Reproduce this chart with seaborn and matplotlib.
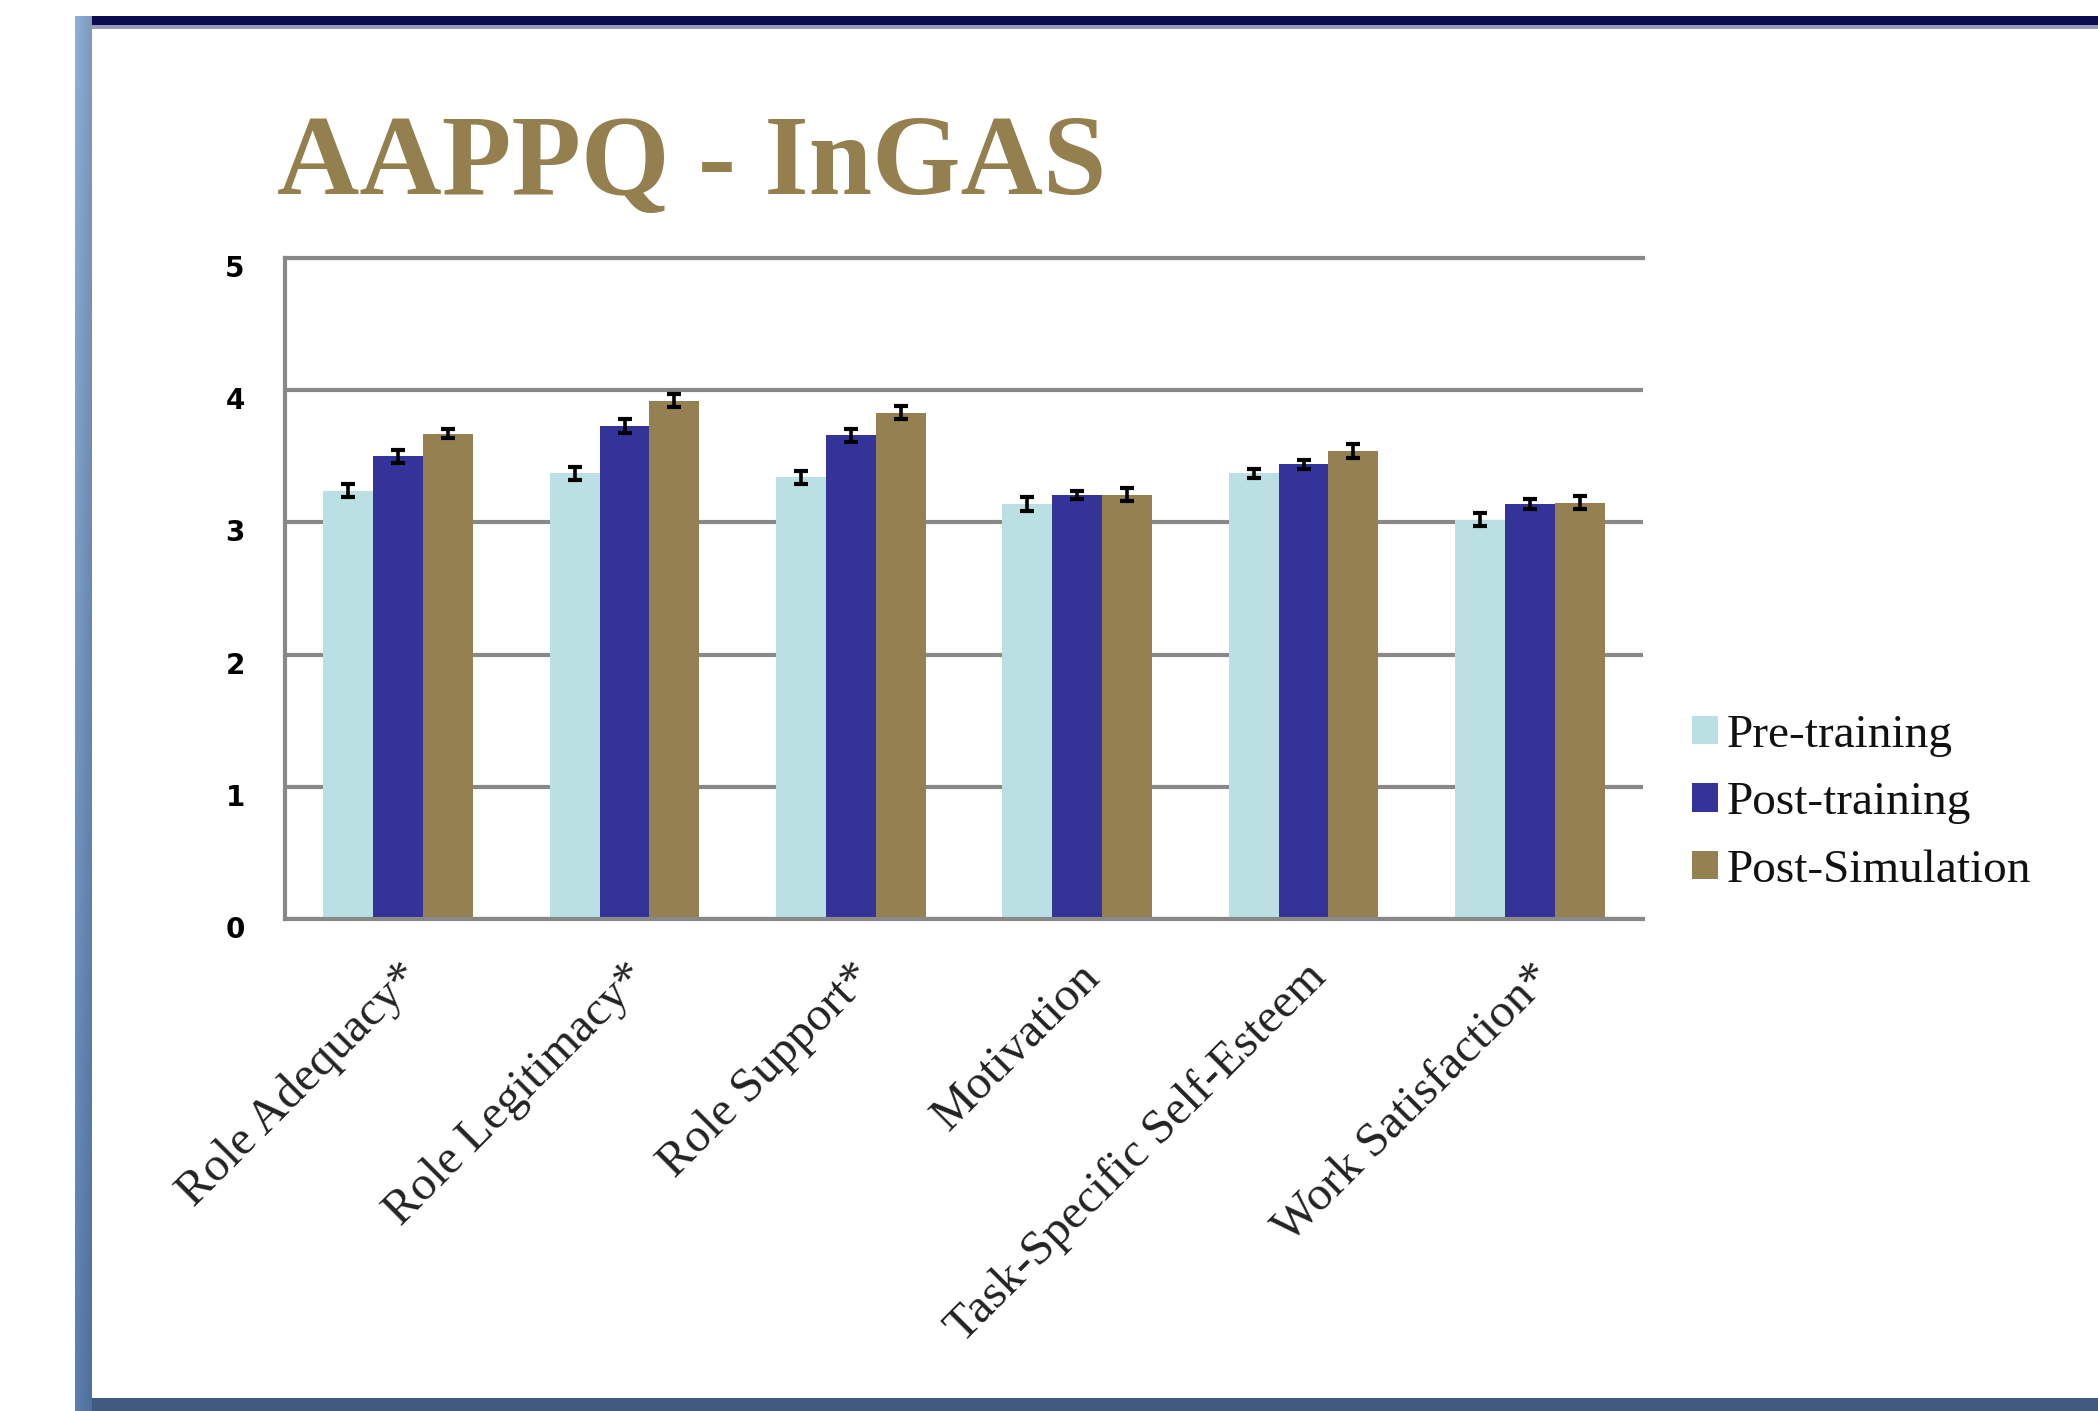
import numpy as np
import pandas as pd
import matplotlib
matplotlib.use("Agg")
import matplotlib.pyplot as plt
import matplotlib.transforms as mtransforms
import seaborn as sns
from matplotlib.patches import Rectangle

# ---- data ----
categories = ["Role Adequacy*", "Role Legitimacy*", "Role Support*",
              "Motivation", "Task-Specific Self-Esteem", "Work Satisfaction*"]
series = ["Pre-training", "Post-training", "Post-Simulation"]
pre_training = [3.24, 3.37, 3.34, 3.14, 3.37, 3.02]
post_training = [3.50, 3.73, 3.66, 3.21, 3.44, 3.14]
post_simulation = [3.67, 3.92, 3.83, 3.21, 3.54, 3.15]
pre_err = [0.05, 0.05, 0.05, 0.05, 0.035, 0.05]
post_err = [0.05, 0.05, 0.05, 0.03, 0.035, 0.035]
postsim_err = [0.035, 0.05, 0.05, 0.05, 0.05, 0.05]
yticks = [0, 1, 2, 3, 4, 5]
colors = ["#BBE0E3", "#333399", "#948051"]
title = "AAPPQ - InGAS"

sns.set_theme(style="white")
plt.rcParams["font.family"] = ["Liberation Serif", "DejaVu Sans"]

W, H = 2098, 1411
fig = plt.figure(figsize=(W / 100, H / 100), dpi=100, facecolor="white")

# ---- slide frame decorations ----
gax = fig.add_axes([75 / W, 0, 17 / W, (H - 16) / H])
grad = np.zeros((100, 10, 3))
top_c = np.array([0x8F, 0xAF, 0xD6]) / 255
bot_c = np.array([0x5A, 0x7F, 0xB0]) / 255
for i in range(100):
    t = i / 99
    c = top_c * (1 - t) + bot_c * t
    for j in range(10):
        grad[i, j] = c * (1 - 0.12 * j / 9)
gax.imshow(grad, aspect="auto", extent=(0, 1, 0, 1))
gax.set_axis_off()
fig.add_artist(Rectangle((92 / W, 1 - 25 / H), 1, 9 / H, transform=fig.transFigure,
                         color="#0B0B4F", lw=0))
fig.add_artist(Rectangle((92 / W, 1 - 29 / H), 1, 4 / H, transform=fig.transFigure,
                         color="#9A9AB8", lw=0))
fig.add_artist(Rectangle((92 / W, 0), 1, 13 / H, transform=fig.transFigure,
                         color="#3F5B7F", lw=0))

# ---- title ----
fig.text(277 / W, 1 - 194 / H, title, fontfamily="Liberation Serif", fontweight="bold",
         fontsize=82, color="#94804F", ha="left", va="baseline")

# ---- chart ----
ax = fig.add_axes([285 / W, 1 - 919 / H, (1643 - 285) / W, (919 - 258) / H])
df = pd.DataFrame({
    "category": categories * 3,
    "series": np.repeat(series, len(categories)),
    "value": pre_training + post_training + post_simulation,
})
sns.barplot(data=df, x="category", y="value", hue="series", order=categories,
            hue_order=series, palette=colors, width=0.66, errorbar=None,
            saturation=1, linewidth=0, edgecolor="none", ax=ax)

errs = [pre_err, post_err, postsim_err]
for cont, e in zip(ax.containers, errs):
    xs = [p.get_x() + p.get_width() / 2 for p in cont]
    ys = [p.get_height() for p in cont]
    ax.errorbar(xs, ys, yerr=e, fmt="none", ecolor="black", elinewidth=2.6,
                capsize=5, capthick=3.0, zorder=5)

ax.set_xlim(-0.5, len(categories) - 0.5)
ax.set_ylim(0, 5)
ax.set_xlabel("")
ax.set_ylabel("")
ax.tick_params(axis="both", length=0)
ax.tick_params(axis="y", pad=29)
ax.tick_params(axis="x", pad=26)
ax.set_yticks(yticks)
ax.set_yticklabels([str(t) for t in yticks], fontfamily="DejaVu Sans",
                   fontweight="bold", fontsize=20, color="black")
ax.set_xticks(range(len(categories)))
ax.set_xticklabels(categories, rotation=45, ha="right", va="top",
                   rotation_mode="anchor", fontsize=35, color="#222222",
                   fontfamily="Liberation Serif")
ax.yaxis.grid(True, color="#888888", linewidth=3)
ax.set_axisbelow(True)
ax.set_facecolor("white")
for s in ["left", "bottom", "top"]:
    ax.spines[s].set_visible(True)
    ax.spines[s].set_color("#888888")
    ax.spines[s].set_linewidth(3)
ax.spines["right"].set_visible(False)

handles, labels = ax.get_legend_handles_labels()
leg = ax.legend(handles[:3], labels[:3], loc="center left",
                bbox_to_anchor=(1692 / W, 1 - 803 / H), bbox_transform=fig.transFigure,
                frameon=False, borderpad=0, borderaxespad=0,
                handlelength=0.56, handleheight=0.56, handletextpad=0.18,
                labelspacing=0.53, prop={"family": "Liberation Serif", "size": 34})
for t in leg.get_texts():
    t.set_color("#111111")

# shift y tick labels slightly downward, as in the reference
shift = mtransforms.ScaledTranslation(0, -0.08, fig.dpi_scale_trans)
for tick in ax.yaxis.get_major_ticks():
    tick.label1.set_transform(tick.label1.get_transform() + shift)

fig.savefig("out.png", dpi=100, facecolor="white")
